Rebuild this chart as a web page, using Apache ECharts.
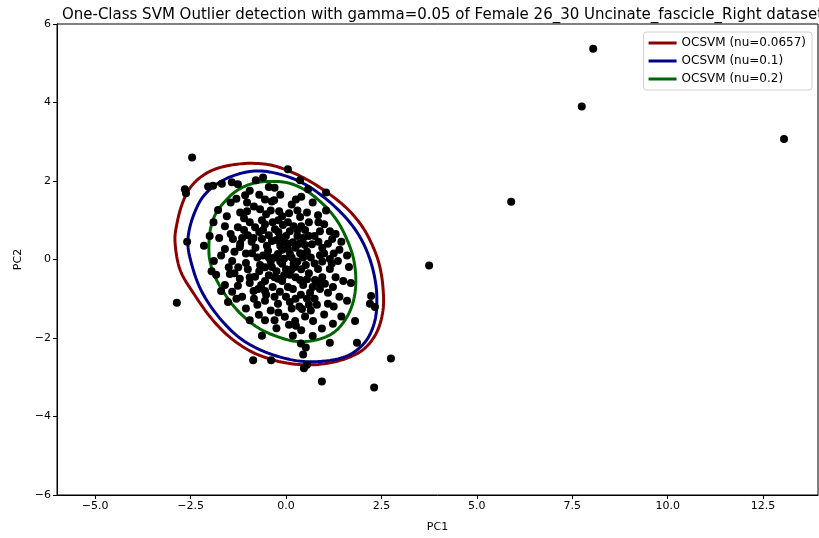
<!DOCTYPE html>
<html>
<head>
<meta charset="utf-8">
<script src="https://cdn.jsdelivr.net/npm/echarts@6/dist/echarts.min.js"></script>
<style>html,body{margin:0;padding:0;background:#fff}#chart{width:819px;height:538px}</style>
</head>
<body>
<div id="chart"></div>
<script>
// ---- data ----
const titleText = 'One-Class SVM Outlier detection with gamma=0.05 of Female 26_30 Uncinate_fascicle_Right dataset';
const xTicks = [-5, -2.5, 0, 2.5, 5, 7.5, 10, 12.5];
const yTicks = [-6, -4, -2, 0, 2, 4, 6];
const seriesNames = ['OCSVM (nu=0.0657)', 'OCSVM (nu=0.1)', 'OCSVM (nu=0.2)'];
const seriesColors = ['#8b0000', '#00008b', '#006400'];

const points = [
 [-2.46,2.60],[-2.65,1.79],[-2.62,1.69],
 [-2.04,1.86],[-1.91,1.88],[-1.68,1.93],[-1.42,1.97],[-1.26,1.92],[-0.79,2.02],[-0.60,2.09],[0.05,2.30],[0.37,2.02],[0.58,1.79],[1.05,1.71],[-0.45,1.85],[-0.30,1.83],[-1.07,1.64],[-1.02,1.45],[-0.55,1.53],[-0.37,1.48],[-0.31,1.51],[0.26,1.53],[-1.78,1.26],[-1.02,1.23],[-0.52,1.15],[-0.18,1.23],[0.08,1.18],[0.37,1.08],[0.84,1.13],[-0.68,1.28],[-0.63,1.00],[-1.10,1.05],[-0.84,1.35],[0.15,1.40],
 [-1.60,0.85],[-1.26,0.82],[-0.81,0.82],[-0.55,0.90],[-0.29,0.77],[-0.08,0.88],[0.10,0.72],[0.50,0.75],[0.89,0.72],[1.15,0.72],[-2.15,0.35],[-1.39,0.52],[-1.00,0.62],[-0.63,0.52],[-0.37,0.47],[-0.16,0.57],[0.18,0.44],[0.50,0.37],[0.68,0.39],[1.21,0.52],[-1.20,0.40],[-0.90,0.45],[-0.45,0.62],[0.00,0.60],[0.30,0.60],[0.75,0.60],[1.30,0.65],[-0.70,0.70],[0.05,0.95],[0.60,0.95],[1.00,0.90],[-1.45,0.65],[0.40,0.85],[-0.20,1.00],[-2.59,0.45],[-0.95,0.95],
 [-1.60,0.27],[-1.21,0.32],[-0.89,0.16],[-0.47,0.22],[-0.21,0.14],[0.05,0.27],[0.37,0.16],[0.89,0.11],[1.15,0.01],[1.36,-0.04],[1.65,-0.19],[-1.89,-0.04],[-1.41,-0.04],[-1.05,-0.09],[-0.68,-0.14],[-0.37,-0.19],[-0.10,-0.11],[0.24,-0.19],[0.52,-0.14],[0.84,-0.24],[1.15,-0.24],[-1.83,-0.39],[-1.47,-0.37],[-1.21,-0.49],[-0.81,-0.44],[-0.55,-0.55],[-0.21,-0.49],[0.10,-0.39],[0.37,-0.52],[0.76,-0.52],[1.02,-0.62],[-0.30,0.05],[-0.05,0.02],[0.15,0.05],[0.30,-0.05],[0.65,0.05],[-0.60,0.10],[-0.15,0.35],[0.25,0.30],[0.95,0.30],[1.40,0.25],[-1.00,-0.25],[-0.25,-0.30],[0.00,-0.25],[0.60,-0.35],[1.30,-0.45],[-1.70,0.10],[-0.80,0.30],[-0.40,-0.05],
 [-1.26,-0.67],[-1.41,-0.82],[-1.15,-0.95],[-0.73,-0.75],[-0.52,-0.90],[-0.16,-0.82],[0.18,-0.75],[0.39,-0.90],[0.63,-0.85],[0.89,-0.75],[1.23,-0.70],[2.23,-0.93],[2.20,-1.13],[2.33,-1.21],[-2.86,-1.10],[-1.52,-1.08],[-0.84,-1.00],[-0.55,-1.05],[-0.21,-1.13],[0.10,-1.08],[0.42,-1.26],[0.81,-1.15],[1.10,-1.13],[-0.71,-1.41],[-0.03,-1.46],[0.24,-1.57],[0.71,-1.57],[0.94,-1.76],[1.23,-1.64],[1.81,-1.57],[0.26,-1.69],[0.08,-1.66],[-0.95,-0.60],[-0.35,-0.70],[0.00,-0.95],[0.55,-1.00],[1.40,-0.95],[-1.05,-1.25],[-0.40,-1.30],[0.50,-1.45],[1.00,-1.40],[-0.70,-0.30],[0.45,-0.65],[1.50,-0.55],
 [-1.30,1.55],[-0.95,1.75],[-0.70,1.65],[-0.15,1.65],[0.40,1.60],[0.70,1.45],[-1.55,1.10],[-1.20,1.20],[-0.40,1.25],[0.55,1.20],[1.05,1.25],
 [-1.75,0.55],[-1.10,0.75],[-0.60,0.75],[-0.35,0.95],[0.20,0.85],[0.85,0.95],[1.45,0.45],[-0.05,0.45],[0.45,0.55],[-0.50,0.35],[-1.35,0.20],[-1.05,0.15],[-0.75,0.05],[0.10,0.15],[0.55,0.20],[0.75,-0.10],[1.00,0.15],[1.20,-0.10],[-0.95,-0.45],[-0.45,-0.40],[-0.10,-0.55],[0.25,-0.45],[0.95,-0.45],[1.10,-0.85],[-1.60,-0.65],[-0.65,-0.65],[0.05,-0.70],[0.70,-0.70],[-0.30,-0.95],[0.25,-1.00],[0.75,-1.00],[1.25,-1.20],[-0.95,-1.55],[-0.55,-1.55],[-0.20,-1.35],[0.35,-1.20],[0.65,-1.30],[1.45,-1.45],[-0.25,-1.75],[0.40,-1.80],[0.70,-1.95],[-1.30,-1.00],[-1.70,-0.80],[-1.95,-0.30],[-2.00,0.60],[-1.90,0.95],[-1.45,1.45],[-0.20,0.70],[0.30,1.25],[0.85,0.45],[1.60,0.10],[1.70,-0.60],[1.60,-1.05],[-0.85,-0.80],[-0.15,-0.05],[0.40,-0.25],[-0.55,-0.20],[-1.25,-0.20],[0.20,-0.10],[-0.10,0.25],[0.60,0.60],[1.10,0.40],[-0.30,-1.55],[0.95,-0.05],[-1.50,-0.20],
 [-0.25,0.50],[0.05,0.40],[0.35,0.40],[-0.45,0.05],[0.45,0.05],[0.15,-0.25],[-0.30,-0.45],[0.55,-0.50],[-0.05,-0.40],[0.30,0.75],[-0.10,1.10],[-0.55,-0.80],[0.15,-1.25],[0.85,-0.60],[-0.85,0.55],[-1.15,0.55],[-1.35,-0.35],[-0.75,-1.15],[0.60,-1.15],[1.25,0.15],
 [-0.63,-1.94],[0.18,-1.94],[0.39,-2.14],[0.52,-2.24],[1.15,-2.12],[1.86,-2.12],[-0.86,-2.57],[-0.39,-2.57],[0.47,-2.77],[0.45,-2.42],[0.55,-2.68],[2.75,-2.52],[0.94,-3.11],[2.31,-3.26],
 [8.05,5.37],[7.75,3.90],[13.05,3.07],[5.90,1.47],[3.75,-0.15]
];

// contour outlines (closed loops)
const contourRed = [
 [-2.85,0.01],[-2.91,0.52],[-2.86,0.90],[-2.75,1.33],[-2.57,1.74],[-2.31,2.04],[-1.94,2.27],[-1.47,2.40],[-0.94,2.45],[-0.37,2.40],[0.16,2.22],[0.63,1.99],[1.15,1.66],[1.62,1.28],[1.99,0.85],[2.25,0.39],[2.44,-0.11],[2.54,-0.70],[2.54,-1.31],[2.36,-1.89],[1.99,-2.32],[1.42,-2.57],[0.76,-2.68],[0.10,-2.65],[-0.47,-2.52],[-1.00,-2.30],[-1.52,-1.94],[-1.99,-1.46],[-2.41,-0.88],[-2.72,-0.39]
];
const contourBlue = [
 [-2.52,0.06],[-2.57,0.44],[-2.52,0.82],[-2.38,1.23],[-2.18,1.59],[-1.86,1.89],[-1.42,2.12],[-0.89,2.25],[-0.37,2.22],[0.16,2.07],[0.63,1.84],[1.15,1.46],[1.60,1.03],[1.94,0.57],[2.18,0.06],[2.33,-0.49],[2.38,-1.00],[2.33,-1.56],[2.10,-2.07],[1.68,-2.42],[1.15,-2.57],[0.50,-2.60],[-0.10,-2.50],[-0.68,-2.30],[-1.21,-2.00],[-1.68,-1.56],[-2.07,-1.05],[-2.33,-0.55]
];
const contourGreen = [
 [-2.02,0.27],[-1.99,0.72],[-1.86,1.13],[-1.62,1.46],[-1.28,1.76],[-0.86,1.94],[-0.37,1.99],[0.10,1.94],[0.55,1.74],[0.97,1.41],[1.31,1.03],[1.57,0.57],[1.76,0.06],[1.83,-0.49],[1.78,-1.00],[1.60,-1.46],[1.28,-1.84],[0.84,-2.04],[0.31,-2.09],[-0.21,-1.97],[-0.73,-1.74],[-1.21,-1.36],[-1.57,-0.93],[-1.86,-0.44],[-1.99,-0.04]
];

// ---- chart ----
const FONT = 'DejaVu Sans';
const fmtNum = (v, d) => (v < 0 ? '\u2212' : '') + Math.abs(v).toFixed(d);
const chart = echarts.init(document.getElementById('chart'), null, {renderer: 'canvas'});

// closed curve through the read contour points, mapped by the axes
function contourSeries(name, data, color) {
  return {
    name, type: 'custom', data, z: 2, silent: true,
    itemStyle: {color},
    renderItem: function (params, api) {
      if (params.dataIndex !== 0) return null;
      const px = data.map(p => api.coord(p));
      const n = px.length, out = [];
      for (let i = 0; i < n; i++) {
        const p0 = px[(i - 1 + n) % n], p1 = px[i], p2 = px[(i + 1) % n], p3 = px[(i + 2) % n];
        for (let s = 0; s < 8; s++) {
          const t = s / 8, t2 = t * t, t3 = t2 * t;
          const f = k => 0.5 * ((2 * p1[k]) + (-p0[k] + p2[k]) * t + (2 * p0[k] - 5 * p1[k] + 4 * p2[k] - p3[k]) * t2 + (-p0[k] + 3 * p1[k] - 3 * p2[k] + p3[k]) * t3);
          out.push([f(0), f(1)]);
        }
      }
      out.push(out[0]);
      return {
        type: 'polyline', shape: {points: out},
        style: {stroke: color, lineWidth: 3, fill: null, lineJoin: 'round'}
      };
    }
  };
}

chart.setOption({
  animation: false,
  backgroundColor: '#fff',
  title: {
    text: titleText, left: 437.5, textAlign: 'center', top: 3,
    textStyle: {fontFamily: FONT, fontSize: 15, fontWeight: 'normal', color: '#000'}
  },
  grid: {left: 57, right: 1, top: 24, bottom: 41, show: true, borderColor: '#000', borderWidth: 1, backgroundColor: 'transparent'},
  legend: {
    orient: 'vertical', right: 7, top: 32,
    data: seriesNames.map((n, i) => ({name: n, itemStyle: {color: seriesColors[i]}})),
    icon: 'rect', itemWidth: 28, itemHeight: 3, itemGap: 6,
    backgroundColor: '#fff', borderColor: '#d0d0d0', borderWidth: 1, borderRadius: 3,
    padding: [5, 6, 5, 5],
    textStyle: {fontFamily: FONT, fontSize: 12, color: '#000'}
  },
  xAxis: {
    type: 'value', min: -6, max: 13.94,
    name: 'PC1', nameLocation: 'middle', nameGap: 27,
    nameTextStyle: {fontFamily: FONT, fontSize: 11, color: '#000'},
    axisLine: {show: true, onZero: false, lineStyle: {color: '#000', width: 1}},
    axisTick: {show: true, inside: false, length: 4, customValues: xTicks, lineStyle: {color: '#000'}},
    axisLabel: {customValues: xTicks, formatter: v => fmtNum(v, 1), fontFamily: FONT, fontSize: 11, color: '#000', margin: 6},
    splitLine: {show: false}
  },
  yAxis: {
    type: 'value', min: -6, max: 6, interval: 2,
    name: 'PC2', nameLocation: 'middle', nameGap: 32, nameRotate: 90,
    nameTextStyle: {fontFamily: FONT, fontSize: 11, color: '#000'},
    axisLine: {show: true, onZero: false, lineStyle: {color: '#000', width: 1}},
    axisTick: {show: true, inside: false, length: 4, lineStyle: {color: '#000'}},
    axisLabel: {formatter: v => fmtNum(v, 0), fontFamily: FONT, fontSize: 11, color: '#000', margin: 6},
    splitLine: {show: false}
  },
  series: [
    contourSeries(seriesNames[0], contourRed, seriesColors[0]),
    contourSeries(seriesNames[1], contourBlue, seriesColors[1]),
    contourSeries(seriesNames[2], contourGreen, seriesColors[2]),
    {type: 'scatter', data: points, symbolSize: 8, itemStyle: {color: '#000', opacity: 1}, z: 3, silent: true}
  ]
});
</script>
</body>
</html>
